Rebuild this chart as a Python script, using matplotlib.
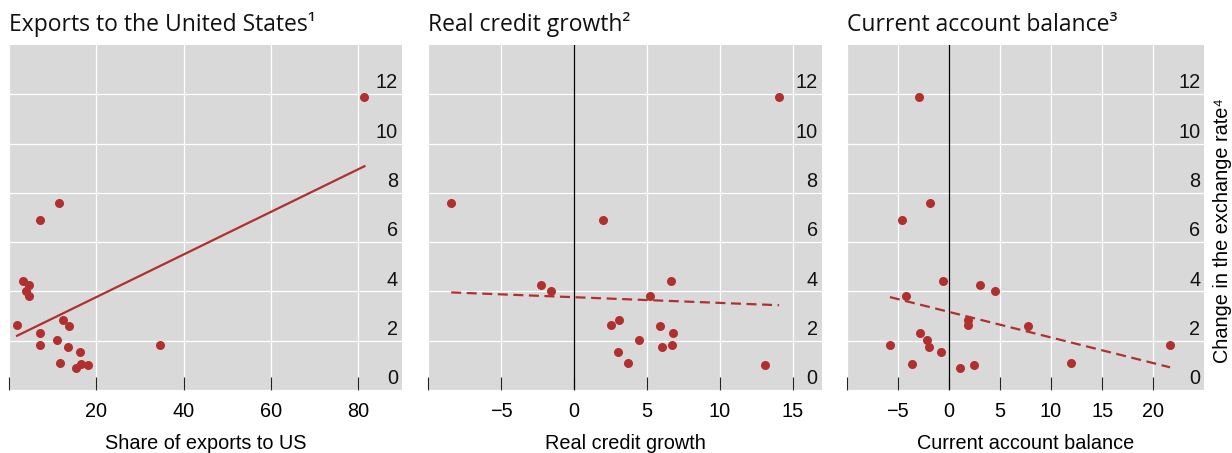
import matplotlib
matplotlib.use('Agg')
import matplotlib.pyplot as plt
from matplotlib.transforms import blended_transform_factory, offset_copy

RED = '#b0302f'
BG = '#d9d9d9'
FS = 14.3

STYLE = {
    'figure.facecolor': 'white',
    'axes.facecolor': BG,
    'axes.spines.top': False,
    'axes.spines.right': False,
    'axes.spines.left': False,
    'axes.spines.bottom': False,
    'font.family': ['Liberation Sans', 'DejaVu Sans'],
    'font.size': FS,
}

# ── data ──────────────────────────────────────────────────────────────────
exports_x = [81.2, 11.5, 7.2, 3.2, 4.6, 3.8, 4.6, 1.85, 12.3, 13.8,
             7.0, 7.1, 11.1, 13.6, 16.3, 34.6, 11.7, 16.4, 18.0, 15.3]
exports_y = [11.9, 7.57, 6.91, 4.43, 4.28, 4.0, 3.82, 2.63, 2.83, 2.59,
             2.31, 1.83, 2.04, 1.75, 1.55, 1.83, 1.09, 1.05, 1.0, 0.89]
exports_fit_x = [1.85, 81.4]
exports_fit_y = [2.2, 9.08]

credit_x = [14.07, -8.43, 2.01, 6.68, -2.30, -1.55, 5.22, 3.06, 2.56,
            5.93, 6.77, 4.49, 6.04, 6.70, 3.01, 3.67, 13.11]
credit_y = [11.9, 7.57, 6.91, 4.43, 4.28, 4.0, 3.82, 2.83, 2.63,
            2.59, 2.31, 2.04, 1.75, 1.83, 1.55, 1.09, 1.0]
credit_fit_x = [-8.43, 14.07]
credit_fit_y = [3.96, 3.44]

ca_x = [-2.88, -1.80, -4.56, -0.62, 3.05, 4.53, -4.16, 1.91, 1.91, 7.78,
        -2.85, -2.10, -1.97, -5.77, 21.65, -0.75, -3.6, 12.0, 2.43, 1.12]
ca_y = [11.9, 7.57, 6.91, 4.43, 4.28, 4.0, 3.82, 2.83, 2.63, 2.59,
        2.31, 2.04, 1.75, 1.83, 1.83, 1.55, 1.05, 1.09, 1.0, 0.89]
ca_fit_x = [-5.77, 21.65]
ca_fit_y = [3.77, 0.92]

titles = ['Exports to the United States\u00b9', 'Real credit growth\u00b2',
          'Current account balance\u00b3']
xlabels = ['Share of exports to US', 'Real credit growth', 'Current account balance']
xlims = [(0, 90), (-10, 17), (-10, 25)]
xticks = [[0, 20, 40, 60, 80], [-10, -5, 0, 5, 10, 15], [-10, -5, 0, 5, 10, 15, 20]]
yticks = [0, 2, 4, 6, 8, 10, 12]
ylabel = 'Change in the exchange rate\u2074'

panels = [
    (exports_x, exports_y, exports_fit_x, exports_fit_y, '-'),
    (credit_x, credit_y, credit_fit_x, credit_fit_y, (0, (4.5, 2.5))),
    (ca_x, ca_y, ca_fit_x, ca_fit_y, (0, (4.5, 2.5))),
]
boxes = [
    [9 / 1232, 0.1391, 393 / 1232, 0.7616],
    [428.3 / 1232, 0.1391, 393.5 / 1232, 0.7616],
    [846.7 / 1232, 0.1391, 357.6 / 1232, 0.7616],
]

with plt.rc_context(STYLE):
    fig = plt.figure(figsize=(12.32, 4.53), dpi=100)
    for i, (px, py, fx, fy, ls) in enumerate(panels):
        ax = fig.add_axes(boxes[i])
        ax.set_xlim(*xlims[i])
        ax.set_ylim(0, 14)
        ax.set_xticks(xticks[i])
        ax.set_xticklabels([''] + [f'{t}'.replace('-', '\u2212') for t in xticks[i][1:]])
        ax.set_yticks(yticks)
        ax.tick_params(axis='x', direction='in', length=9.5, width=0.8,
                       color='#222222', pad=8.5, labelsize=FS)
        ax.tick_params(axis='y', length=0, labelleft=False)
        ax.grid(True, color='white', linewidth=0.9)
        ax.set_axisbelow(True)
        if xlims[i][0] < 0:
            ax.axvline(0, color='black', linewidth=0.9, zorder=1.5)

        ax.plot(fx, fy, color=RED, linewidth=1.6, linestyle=ls, zorder=2)
        ax.plot(px, py, 'o', color=RED, markersize=6.5, markeredgewidth=0, zorder=3)

        # y labels sit inside the plot, just above each gridline
        trans = offset_copy(blended_transform_factory(ax.transAxes, ax.transData),
                            fig=fig, x=-3, y=1.3, units='points')
        for v in yticks:
            ax.text(1.0, v, str(v), transform=trans, ha='right', va='bottom',
                    fontsize=FS, color='#111111')

        ax.set_title(titles[i], loc='left', pad=10, fontsize=16.5,
                     family=['Open Sans', 'DejaVu Sans'], color='#111111')
        ax.set_xlabel(xlabels[i], fontsize=FS, labelpad=9.5)

    fig.text(1222 / 1232, 1 - 231 / 453, ylabel, rotation=90,
             ha='center', va='center', fontsize=FS)

    fig.savefig('out.png', dpi=100)
